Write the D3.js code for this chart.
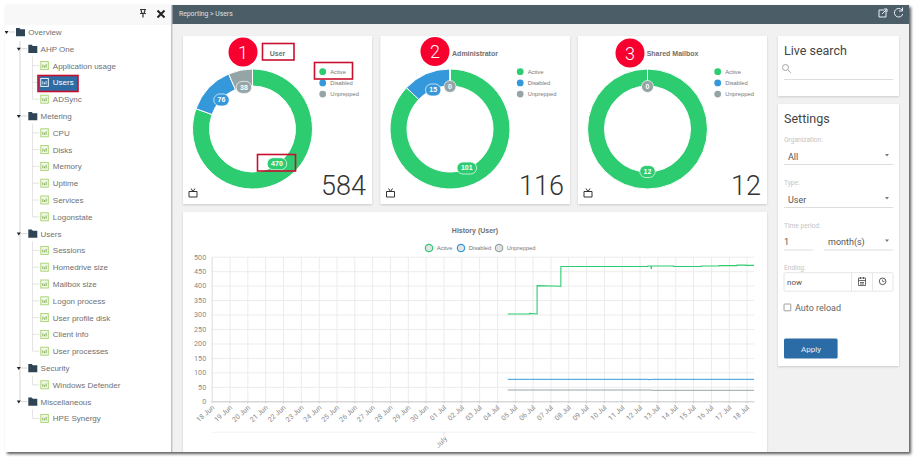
<!DOCTYPE html>
<html>
<head>
<meta charset="utf-8">
<title>Users</title>
<script src="https://cdnjs.cloudflare.com/ajax/libs/d3/7.8.5/d3.min.js"></script>
<style>
html, body { margin: 0; padding: 0; background: #fff; overflow: hidden; }
svg { display: block; }
text { font-family: Roboto, sans-serif; }
.nav text, .legend text, .ctitle, .pill text, .hlegend text { font-family: "Liberation Sans", Arial, sans-serif; }
.grid line { stroke: #ececec; stroke-width: 1; }
.grid path { display: none; }
.axis text { fill: #8a8a8a; font-size: 7px; }
.axis path, .axis line { stroke: #ccc; }
</style>
</head>
<body>
<div id="root"></div>
<script>
// donut data
var sliceNames = ['Active', 'Disabled', 'Unprepped'];
var sliceColors = ['#2ecc71', '#3498db', '#95a5a6'];
var cardTitles = ['User', 'Administrator', 'Shared Mailbox'];
var userCounts = [470, 76, 38];
var adminCounts = [101, 15, 0];
var mailboxCounts = [12, 0, 0];
var cardTotals = [584, 116, 12];

// history data
var historyTimes = ['07-04 14:30', '07-05 20:00', '07-05 20:01', '07-06 06:00', '07-06 06:01', '07-07 14:00', '07-07 14:01',
  '07-12 11:00', '07-12 11:01', '07-12 15:30', '07-12 15:31', '07-12 16:00', '07-12 16:01', '07-13 22:00', '07-13 22:01',
  '07-15 11:00', '07-15 11:01', '07-16 11:00', '07-16 11:01', '07-17 11:00', '07-17 11:01', '07-17 23:00', '07-17 23:01', '07-18 10:00'];
var activeValues = [302, 302, 304, 302, 400, 398, 466, 466, 468, 468, 459, 459, 468, 468, 466, 466, 468, 468, 469, 469, 471, 471, 470, 470];
var disabledValues = [76, 76, 76, 76, 76, 76, 76, 76, 75, 75, 75, 75, 76, 76, 76, 76, 76, 76, 76, 76, 76, 76, 76, 76];
var unpreppedValues = [39, 39, 39, 39, 39, 39, 39, 39, 39, 39, 39, 39, 38, 38, 38, 38, 38, 38, 38, 38, 38, 38, 38, 38];
var yTicks = [0, 50, 100, 150, 200, 250, 300, 350, 400, 450, 500];
var monthLabels = ['July'];

// left tree
var navNames = ['Overview', 'AHP One', 'Application usage', 'Users', 'ADSync', 'Metering', 'CPU', 'Disks', 'Memory', 'Uptime',
  'Services', 'Logonstate', 'Users', 'Sessions', 'Homedrive size', 'Mailbox size', 'Logon process', 'User profile disk',
  'Client info', 'User processes', 'Security', 'Windows Defender', 'Miscellaneous', 'HPE Synergy'];
var navLevels = [0, 1, 2, 2, 2, 1, 2, 2, 2, 2, 2, 2, 1, 2, 2, 2, 2, 2, 2, 2, 1, 2, 1, 2];

var svg = d3.select('#root').append('svg').attr('width', 918).attr('height', 461);
var defs = svg.append('defs');
var f = defs.append('filter').attr('id', 'outer').attr('x', '-5%').attr('y', '-5%').attr('width', '110%').attr('height', '110%');
f.append('feDropShadow').attr('dx', 2).attr('dy', 2).attr('stdDeviation', 1.8).attr('flood-color', '#000').attr('flood-opacity', 0.65);
var f2 = defs.append('filter').attr('id', 'card').attr('x', '-5%').attr('y', '-5%').attr('width', '110%').attr('height', '110%');
f2.append('feDropShadow').attr('dx', 0).attr('dy', 1).attr('stdDeviation', 1.2).attr('flood-color', '#000').attr('flood-opacity', 0.16);
defs.append('clipPath').attr('id', 'frame').append('rect').attr('x', 5).attr('y', 5).attr('width', 904).attr('height', 447);

// window frame
svg.append('rect').attr('x', 5).attr('y', 5).attr('width', 904).attr('height', 447).attr('fill', '#f1f1f1').attr('filter', 'url(#outer)');
var page = svg.append('g').attr('clip-path', 'url(#frame)');

function card(x, y, w, h) {
  page.append('rect').attr('x', x).attr('y', y).attr('width', w).attr('height', h).attr('fill', '#fff').attr('filter', 'url(#card)');
}

// header bar
page.append('rect').attr('x', 172).attr('y', 5).attr('width', 737).attr('height', 19).attr('fill', '#4b5d67');
page.append('text').attr('x', 179).attr('y', 15.5).attr('font-size', 6.8).attr('fill', '#dde3e6').text('Reporting > Users');
page.append('path').attr('d', 'M886 11v6h-7v-7h5M882 14l5-5M884 9h3v3').attr('fill', 'none').attr('stroke', '#eef').attr('stroke-width', 1);
page.append('path').attr('d', 'M902 10a4.3 4.3 0 1 0 .8 4M902.5 7.5v3.5h-3.5').attr('fill', 'none').attr('stroke', '#eef').attr('stroke-width', 1);

// nav panel
page.append('rect').attr('x', 5).attr('y', 5).attr('width', 166).attr('height', 447).attr('fill', '#fff');
page.append('rect').attr('x', 5).attr('y', 5).attr('width', 166).attr('height', 20).attr('fill', '#f8f8f8');
page.append('rect').attr('x', 171).attr('y', 5).attr('width', 1.5).attr('height', 447).attr('fill', '#c4c4c4');
page.append('path').attr('d', 'M140 9.5h6M141 10l1 3.5h2l1-3.5M140 13.5h6M143 13.5v4').attr('fill', 'none').attr('stroke', '#333').attr('stroke-width', 1.2);
page.append('path').attr('d', 'M157.5 10.5l7 7M164.5 10.5l-7 7').attr('fill', 'none').attr('stroke', '#222').attr('stroke-width', 2);

var nav = page.append('g').attr('class', 'nav');
var navY = d3.scaleLinear().domain([0, 23]).range([32, 418.4]);
var levelX = [16, 28.3, 40.3];

// tree lines
nav.append('line').attr('x1', 20).attr('x2', 20).attr('y1', 41).attr('y2', navY(22)).attr('stroke', '#e2e2e2').attr('stroke-width', 1.5);
navNames.forEach(function(name, i) {
  var lv = navLevels[i];
  if (lv == 2) {
    var up = navLevels[i - 1] == 2 ? navY(i - 1) : navY(i) - 9;
    nav.append('path').attr('d', 'M32.5 ' + up + 'V' + navY(i) + 'H' + (levelX[2] - 1)).attr('fill', 'none').attr('stroke', '#ddd').attr('stroke-width', 0.8);
  } else {
    var tx = levelX[lv] - 9.5;
    nav.append('path').attr('d', 'M' + (tx - 2) + ' ' + (navY(i) - 1) + 'h4l-2 3z').attr('fill', '#222');
    nav.append('line').attr('x1', tx + 2.5).attr('x2', levelX[lv] - 1).attr('y1', navY(i)).attr('y2', navY(i)).attr('stroke', '#ccc').attr('stroke-width', 0.8);
  }
});

// selected row
nav.append('rect').attr('x', 38).attr('y', 75.5).attr('width', 40).attr('height', 16).attr('fill', '#2e6da4').attr('stroke', '#c8102e').attr('stroke-width', 1.6);

var rows = nav.selectAll('g.row').data(navNames).enter().append('g').attr('class', 'row')
  .attr('transform', function(d, i) { return 'translate(' + levelX[navLevels[i]] + ',' + navY(i) + ')'; });
rows.each(function(d, i) {
  var g = d3.select(this);
  if (navLevels[i] < 2) {
    g.append('path').attr('d', 'M0 -4h3.5l1 1.2h4.5v7h-9z').attr('fill', '#2f4454');
  } else {
    var c = i == 3 ? '#fff' : '#a5d36b';
    g.append('rect').attr('x', 0.5).attr('y', -4).attr('width', 7.5).attr('height', 8).attr('fill', i == 3 ? 'none' : '#f2f8ea').attr('stroke', c).attr('stroke-width', 0.9);
    g.append('path').attr('d', 'M2.5 2v-3M4.2 2v-2M5.8 2v-3.5').attr('stroke', i == 3 ? '#fff' : '#6f9f3a').attr('stroke-width', 0.8);
  }
});
rows.append('text').attr('x', function(d, i) { return navLevels[i] == 2 ? 12.5 : 12.3; }).attr('y', 3)
  .attr('font-size', 8).attr('fill', function(d, i) { return i == 3 ? '#fff' : '#707070'; }).text(function(d) { return d; });

// donut cards
var pie = d3.pie().sort(null).value(function(d) { return d; });
var arc = d3.arc().innerRadius(43).outerRadius(60);
var labelArc = d3.arc().innerRadius(42.5).outerRadius(42.5);

function donutCard(idx, x, w, counts, cx) {
  card(x, 36, w, 168);
  var g = page.append('g');
  var center = g.append('g').attr('transform', 'translate(' + cx + ',129)');
  var arcs = pie(counts);
  center.selectAll('path').data(arcs).enter().append('path')
    .attr('d', arc)
    .attr('fill', function(d, i) { return sliceColors[i]; })
    .attr('stroke', '#fff').attr('stroke-width', 1);
  var pills = center.selectAll('g.pill').data(arcs).enter().append('g').attr('class', 'pill')
    .attr('transform', function(d) { return 'translate(' + labelArc.centroid(d) + ')'; });
  // zero disabled on the mailbox card has no badge of its own, only unprepped does
  pills.filter(function(d, i) { return d.value > 0 || i == 2; }).each(function(d) {
    var i = arcs.indexOf(d);
    var p = d3.select(this);
    var label = String(d.value);
    var pw = Math.max(12, label.length * 4.2 + 7);
    p.append('rect').attr('x', -pw / 2).attr('y', -6).attr('width', pw).attr('height', 12).attr('rx', 6)
      .attr('fill', sliceColors[i]).attr('stroke', '#fff').attr('stroke-opacity', 0.85).attr('stroke-width', 0.8);
    p.append('text').attr('text-anchor', 'middle').attr('y', 2.4).attr('font-size', 7).attr('font-weight', 'bold').attr('fill', '#fff').text(label);
  });
  // title
  g.append('text').attr('class', 'ctitle').attr('x', x + 94.5).attr('y', 55.5).attr('text-anchor', 'middle')
    .attr('font-size', 7).attr('font-weight', 'bold').attr('fill', '#707070').text(cardTitles[idx]);
  // legend
  var lg = g.append('g').attr('class', 'legend');
  var items = lg.selectAll('g').data(sliceNames).enter().append('g')
    .attr('transform', function(d, i) { return 'translate(' + (x + 139.7) + ',' + (71.7 + i * 11.2) + ')'; });
  items.append('circle').attr('r', 3.4).attr('fill', function(d, i) { return sliceColors[i]; });
  items.append('text').attr('x', 7.5).attr('y', 2).attr('font-size', 5.8).attr('fill', '#777').text(function(d) { return d; });
  // total
  g.append('text').attr('x', x + w - 6).attr('y', 195).attr('text-anchor', 'end').attr('font-size', 27).attr('font-weight', 300).attr('fill', '#333').text(cardTotals[idx]);
  // tv icon
  g.append('path').attr('d', 'M' + (x + 6) + ' 191.5h8v5.5h-8zM' + (x + 8) + ' 188.5l2 3 2-3').attr('fill', 'none').attr('stroke', '#333').attr('stroke-width', 1);
}

donutCard(0, 183, 189, userCounts, 252.5);
donutCard(1, 380.5, 189.5, adminCounts, 450);
donutCard(2, 578, 189, mailboxCounts, 647.5);

// numbered markers
var markers = [[243, 52, '1'], [435, 51.5, '2'], [630, 53, '3']];
page.selectAll('g.marker').data(markers).enter().append('g').attr('class', 'marker')
  .attr('transform', function(d) { return 'translate(' + d[0] + ',' + d[1] + ')'; })
  .call(function(m) {
    m.append('circle').attr('r', 14.5).attr('fill', '#f7002f');
    m.append('text').attr('text-anchor', 'middle').attr('y', 6.5).attr('font-size', 18).attr('font-weight', 300).attr('fill', '#fff').text(function(d) { return d[2]; });
  });

// red highlight boxes
var boxes = [[262.5, 43.5, 31.5, 16.5], [314.5, 62.5, 38, 16.5], [257.5, 154.5, 38, 16.5]];
page.selectAll('rect.box').data(boxes).enter().append('rect').attr('class', 'box')
  .attr('x', function(d) { return d[0]; }).attr('y', function(d) { return d[1]; })
  .attr('width', function(d) { return d[2]; }).attr('height', function(d) { return d[3]; })
  .attr('fill', 'none').attr('stroke', '#c8102e').attr('stroke-width', 1.6);

// history card
card(183, 212, 584, 260);
var parseTime = d3.utcParse('%Y-%m-%d %H:%M');
var times = historyTimes.map(function(d) { return parseTime('2018-' + d); });
var x = d3.scaleUtc().domain([parseTime('2018-06-18 00:00'), parseTime('2018-07-18 10:00')]).range([211.7, 754]);
var y = d3.scaleLinear().domain([0, 500]).range([401.3, 256.7]);

var chart = page.append('g');
chart.append('text').attr('class', 'ctitle').attr('x', 475).attr('y', 232.5).attr('text-anchor', 'middle')
  .attr('font-size', 7).attr('font-weight', 'bold').attr('fill', '#707070').text('History (User)');

var hl = chart.append('g').attr('class', 'hlegend');
var hlX = [429, 461, 499];
var hlItems = hl.selectAll('g').data(sliceNames).enter().append('g')
  .attr('transform', function(d, i) { return 'translate(' + hlX[i] + ',248)'; });
hlItems.append('circle').attr('r', 3.7).attr('fill', '#e4e4e4').attr('stroke', function(d, i) { return sliceColors[i]; }).attr('stroke-width', 1.2);
hlItems.append('text').attr('x', 7.7).attr('y', 2).attr('font-size', 5.8).attr('fill', '#777').text(function(d) { return d; });

// grid
chart.append('g').attr('class', 'grid').attr('transform', 'translate(0,401.3)')
  .call(d3.axisBottom(x).ticks(d3.utcDay.every(1)).tickSize(-144.6).tickFormat(''));
chart.append('g').attr('class', 'grid').attr('transform', 'translate(211.7,0)')
  .call(d3.axisLeft(y).tickValues(yTicks).tickSize(-542.3).tickFormat(''));

// axes
var yAxis = chart.append('g').attr('class', 'axis').attr('transform', 'translate(211.7,0)')
  .call(d3.axisLeft(y).tickValues(yTicks).tickSize(0).tickPadding(5.5));
yAxis.select('path').style('stroke', '#e4e4e4');
yAxis.selectAll('text').style('font-size', '7.2px');

var xAxis = chart.append('g').attr('class', 'axis').attr('transform', 'translate(0,401.3)')
  .call(d3.axisBottom(x).ticks(d3.utcDay.every(1)).tickSize(2).tickSizeOuter(0).tickFormat(d3.utcFormat('%d %b')));
xAxis.selectAll('text').attr('text-anchor', 'end').attr('dx', '0').attr('dy', '0').attr('y', 8)
  .attr('transform', 'rotate(-42 0 4)');

// month strip under the day labels
var monthAxis = chart.append('g').attr('class', 'axis').attr('transform', 'translate(0,431.7)')
  .call(d3.axisBottom(x).ticks(d3.utcMonth.every(1)).tickSize(4).tickSizeOuter(0).tickFormat(function() { return monthLabels[0]; }));
monthAxis.select('path').style('stroke', '#f1f1f1');
monthAxis.selectAll('line').style('stroke', '#e4e4e4');
monthAxis.selectAll('text').attr('text-anchor', 'end').attr('dy', '0').attr('y', 9).attr('dx', '0')
  .attr('transform', 'rotate(-45 0 4)');

// lines
var line = d3.line().x(function(d, i) { return x(times[i]); }).y(function(d) { return y(d); });
[activeValues, disabledValues, unpreppedValues].forEach(function(vals, i) {
  chart.append('path').datum(vals).attr('d', line).attr('fill', 'none').attr('stroke', sliceColors[i]).attr('stroke-width', i == 0 ? 1.1 : 1);
});

// live search card
card(778, 36, 121, 60);
page.append('text').attr('x', 784).attr('y', 54.5).attr('font-size', 12.5).attr('fill', '#444').text('Live search');
page.append('path').attr('d', 'M785.5 67.5m-3 0a3 3 0 1 0 6 0a3 3 0 1 0 -6 0M787.8 69.8l3 3').attr('fill', 'none').attr('stroke', '#999').attr('stroke-width', 0.9);
page.append('line').attr('x1', 784).attr('x2', 893).attr('y1', 79.5).attr('y2', 79.5).attr('stroke', '#ddd');

// settings card
card(778, 104, 121, 262);
page.append('text').attr('x', 784).attr('y', 122.5).attr('font-size', 12.5).attr('fill', '#444').text('Settings');

function fieldLabel(txt, yy) {
  page.append('text').attr('x', 784).attr('y', yy).attr('font-size', 6.6).attr('fill', '#c4c4c4').text(txt);
}
function fieldValue(txt, xx, yy) {
  page.append('text').attr('x', xx).attr('y', yy).attr('font-size', 9).attr('fill', '#555').text(txt);
}
function underline(x1, x2, yy) {
  page.append('line').attr('x1', x1).attr('x2', x2).attr('y1', yy).attr('y2', yy).attr('stroke', '#ddd');
}
function caret(yy) {
  page.append('path').attr('d', 'M885 ' + (yy - 1) + 'h4l-2 2.5z').attr('fill', '#777');
}
fieldLabel('Organization:', 142);
fieldValue('All', 788, 160);
underline(784, 893, 164.5);
caret(155);
fieldLabel('Type:', 185);
fieldValue('User', 788, 202.5);
underline(784, 893, 207.5);
caret(198);
fieldLabel('Time period:', 227.5);
fieldValue('1', 784, 244.5);
underline(784, 813, 250);
fieldValue('month(s)', 828, 245);
underline(824, 893, 250);
caret(240.5);
fieldLabel('Ending:', 270);
page.append('rect').attr('x', 784).attr('y', 272.7).attr('width', 109).attr('height', 18.5).attr('rx', 1.5).attr('fill', '#fff').attr('stroke', '#e6e6e6');
page.append('path').attr('d', 'M851.5 273v18M872.5 273v18').attr('stroke', '#e6e6e6');
page.append('text').attr('x', 787).attr('y', 284.5).attr('font-size', 8).attr('fill', '#555').text('now');
page.append('path').attr('d', 'M858.5 278h7v7.5h-7zM858.5 280.5h7M860.5 277v2M863.5 277v2M860 282.5h4M860 284h4').attr('fill', 'none').attr('stroke', '#444').attr('stroke-width', 0.8);
page.append('circle').attr('cx', 882.6).attr('cy', 281.3).attr('r', 3.3).attr('fill', 'none').attr('stroke', '#444').attr('stroke-width', 0.9);
page.append('path').attr('d', 'M882.6 279.5v2h1.8').attr('fill', 'none').attr('stroke', '#444').attr('stroke-width', 0.7);
page.append('rect').attr('x', 784).attr('y', 304).attr('width', 6.8).attr('height', 6.8).attr('rx', 0.8).attr('fill', '#fff').attr('stroke', '#888').attr('stroke-width', 0.8);
page.append('text').attr('x', 795).attr('y', 310.5).attr('font-size', 9).attr('fill', '#666').text('Auto reload');
page.append('rect').attr('x', 784).attr('y', 338.6).attr('width', 53.6).attr('height', 20).attr('rx', 1.5).attr('fill', '#2c6ca6');
page.append('text').attr('x', 811).attr('y', 351.5).attr('text-anchor', 'middle').attr('font-size', 8).attr('fill', '#e6eef6').text('Apply');
</script>
</body>
</html>
